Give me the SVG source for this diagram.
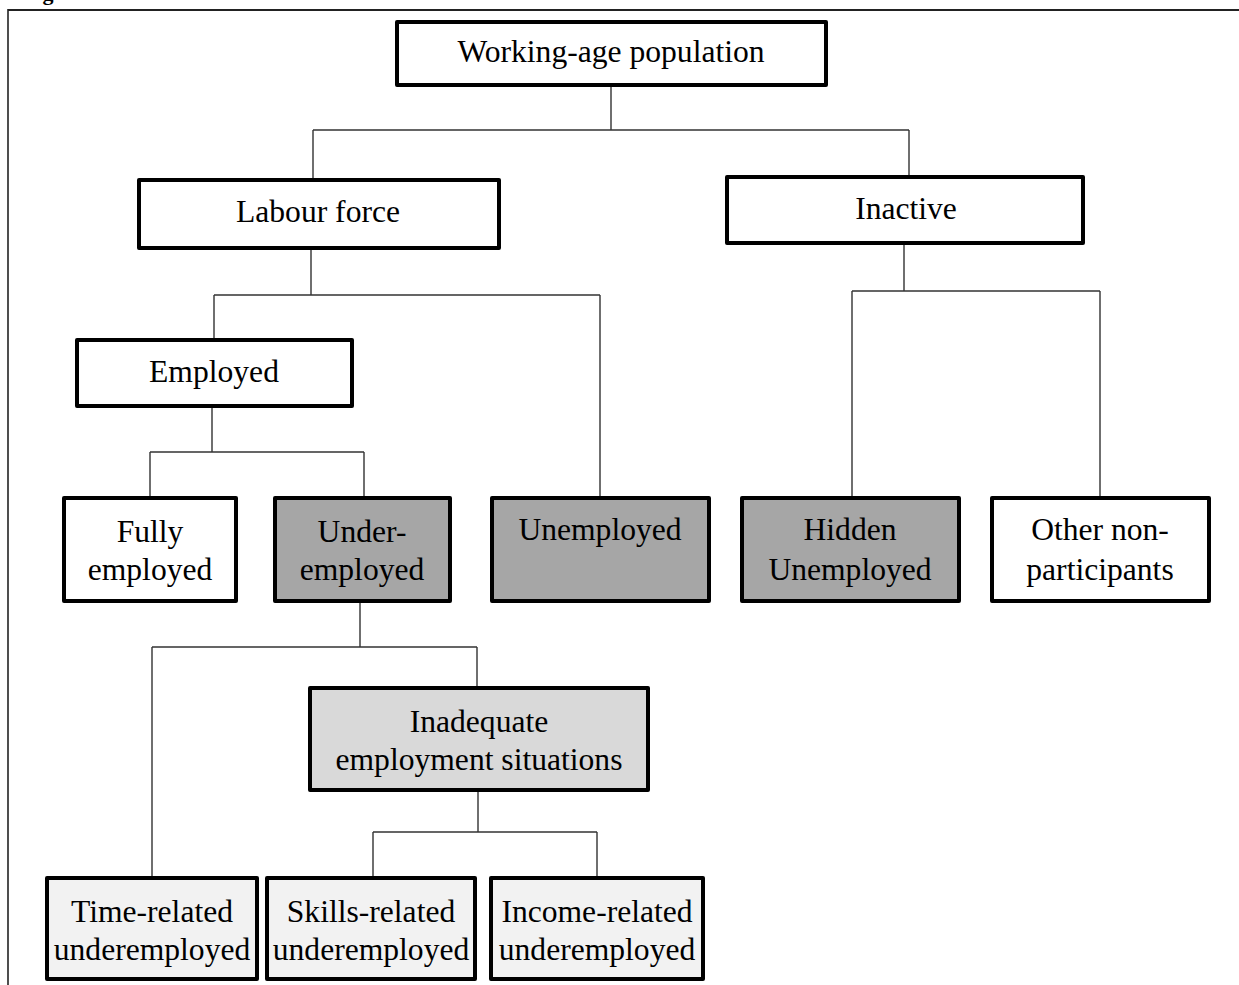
<svg xmlns="http://www.w3.org/2000/svg" width="1239" height="985" viewBox="0 0 1239 985">
<style>
.box{stroke:#000;stroke-width:4;stroke-linejoin:round}
.w{fill:#fff}
.d{fill:#a6a6a6}
.m{fill:#d9d9d9}
.l{fill:#f2f2f2}
.t{font-family:"Liberation Serif","Times New Roman",serif;font-size:31.6px;fill:#000;text-anchor:middle}
.c{fill:none;stroke:#333;stroke-width:1.4}
</style>
<rect width="1239" height="985" fill="#fff"/>
<text x="23" y="0" font-family="Liberation Serif,serif" font-weight="bold" font-size="22">Fig</text>
<g id="frame" fill="none" stroke="#222">
<line x1="8" y1="10" x2="1239" y2="10" stroke-width="2"/>
<line x1="8" y1="9" x2="8" y2="985" stroke-width="1.6"/>
</g>
<g id="connectors">
<path class="c" d="M611 85V130M313 130H909M313 130V180M909 130V177"/>
<path class="c" d="M311 248V295M214 295H600M214 295V340M600 295V498"/>
<path class="c" d="M904 243V291M852 291H1100M852 291V498M1100 291V498"/>
<path class="c" d="M212 406V452M150 452H364M150 452V498M364 452V498"/>
<path class="c" d="M360 601V647M152 647H477M152 647V878M477 647V688"/>
<path class="c" d="M478 790V832M373 832H597M373 832V878M597 832V878"/>
</g>
<g id="n-working-age">
<rect class="box w" x="397" y="22" width="429" height="63"/>
<text class="t" x="611" y="62">Working-age population</text>
</g>
<g id="n-labour-force">
<rect class="box w" x="139" y="180" width="360" height="68"/>
<text class="t" x="318" y="222">Labour force</text>
</g>
<g id="n-inactive">
<rect class="box w" x="727" y="177" width="356" height="66"/>
<text class="t" x="906" y="219">Inactive</text>
</g>
<g id="n-employed">
<rect class="box w" x="77" y="340" width="275" height="66"/>
<text class="t" x="214" y="382">Employed</text>
</g>
<g id="n-fully">
<rect class="box w" x="64" y="498" width="172" height="103"/>
<text class="t" x="150" y="542">Fully</text>
<text class="t" x="150" y="580">employed</text>
</g>
<g id="n-under">
<rect class="box d" x="275" y="498" width="175" height="103"/>
<text class="t" x="362" y="542">Under-</text>
<text class="t" x="362" y="580">employed</text>
</g>
<g id="n-unemployed">
<rect class="box d" x="492" y="498" width="217" height="103"/>
<text class="t" x="600" y="540">Unemployed</text>
</g>
<g id="n-hidden">
<rect class="box d" x="742" y="498" width="217" height="103"/>
<text class="t" x="850" y="540">Hidden</text>
<text class="t" x="850" y="580">Unemployed</text>
</g>
<g id="n-other">
<rect class="box w" x="992" y="498" width="217" height="103"/>
<text class="t" x="1100" y="540">Other non-</text>
<text class="t" x="1100" y="580">participants</text>
</g>
<g id="n-inadequate">
<rect class="box m" x="310" y="688" width="338" height="102"/>
<text class="t" x="479" y="732">Inadequate</text>
<text class="t" x="479" y="770">employment situations</text>
</g>
<g id="n-time">
<rect class="box l" x="47" y="878" width="210" height="101"/>
<text class="t" x="152" y="922">Time-related</text>
<text class="t" x="152" y="960">underemployed</text>
</g>
<g id="n-skills">
<rect class="box l" x="267" y="878" width="208" height="101"/>
<text class="t" x="371" y="922">Skills-related</text>
<text class="t" x="371" y="960">underemployed</text>
</g>
<g id="n-income">
<rect class="box l" x="491" y="878" width="212" height="101"/>
<text class="t" x="597" y="922">Income-related</text>
<text class="t" x="597" y="960">underemployed</text>
</g>
</svg>
